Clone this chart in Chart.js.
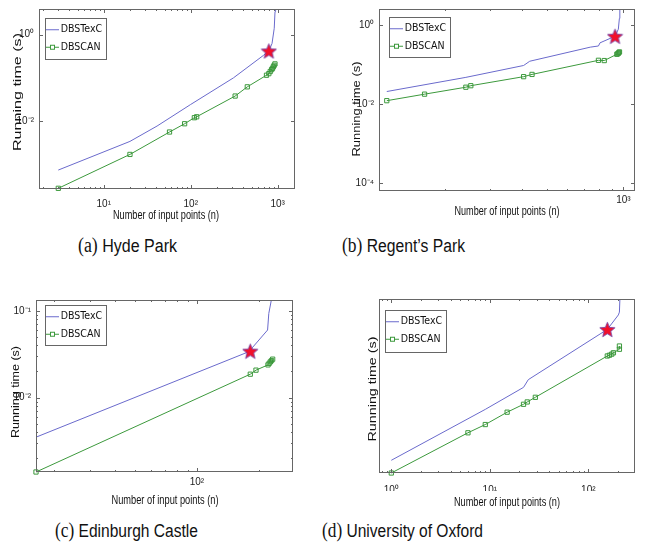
<!DOCTYPE html>
<html>
<head>
<meta charset="utf-8">
<script src="https://cdn.jsdelivr.net/npm/chart.js@4.4.1/dist/chart.umd.min.js"></script>
<style>
  html, body { margin: 0; padding: 0; background: #fff; }
  #page { position: relative; width: 649px; height: 550px; overflow: hidden; }
  #page canvas { position: absolute; }
  .cap { position: absolute; white-space: nowrap; font-family: 'Liberation Sans', Arial, sans-serif;
         font-size: 18px; line-height: 22px; color: #111; transform-origin: 0 50%; }
  .cap .lab { font-family: 'Liberation Serif', 'Times New Roman', serif; font-size: 20px; }
</style>
</head>
<body>
<div id="page">
  <canvas id="hyde" width="330" height="232" style="left:0px;top:0px"></canvas>
  <canvas id="regent" width="319" height="232" style="left:330px;top:0px"></canvas>
  <canvas id="edin" width="330" height="240" style="left:0px;top:270px"></canvas>
  <canvas id="oxford" width="319" height="240" style="left:330px;top:270px"></canvas>

  <div class="cap" style="left:78px;top:234px" data-w="99"><span class="lab">(a)</span> Hyde Park</div>
  <div class="cap" style="left:342px;top:234px" data-w="123"><span class="lab">(b)</span> Regent’s Park</div>
  <div class="cap" style="left:55px;top:519px" data-w="143"><span class="lab">(c)</span> Edinburgh Castle</div>
  <div class="cap" style="left:322px;top:519px" data-w="161"><span class="lab">(d)</span> University of Oxford</div>
</div>
<script>
// (a) Hyde Park
const hydeScanX = [3, 20, 57, 85, 110, 117, 324, 447, 743, 790, 820, 850, 870, 890, 910, 930];
const hydeScanY = [0.00028, 0.0017, 0.0056, 0.0087, 0.012, 0.0126, 0.038, 0.062, 0.115, 0.125, 0.14, 0.155, 0.165, 0.18, 0.195, 0.21];
const hydeTexcX = [3, 20, 41, 99, 310, 684, 790, 860, 912, 931, 945];
const hydeTexcY = [0.00074, 0.0034, 0.0077, 0.024, 0.1, 0.33, 0.42, 0.62, 1.4, 3.4, 8];
const hydeStar = { x: 790, y: 0.42 };
const hydeXTicks = [10, 100, 1000];
const hydeXLabels = ['10¹', '10²', '10³'];
const hydeYTicks = [0.01, 1];
const hydeYLabels = ['10⁻²', '10⁰'];

// (b) Regent's Park
const regentScanX = [118, 166, 241, 252, 406, 438, 798, 841, 942, 950, 955, 960, 965];
const regentScanY = [0.0123, 0.018, 0.027, 0.0295, 0.05, 0.057, 0.13, 0.128, 0.185, 0.19, 0.197, 0.205, 0.212];
const regentTexcX = [118, 241, 406, 429, 741, 798, 809, 927, 955, 964, 968];
const regentTexcY = [0.021, 0.048, 0.096, 0.123, 0.28, 0.3, 0.36, 0.53, 0.8, 1.5, 4];
const regentStar = { x: 927, y: 0.53 };
const regentXTicks = [1000];
const regentXLabels = ['10³'];
const regentYTicks = [0.0001, 0.01, 1];
const regentYLabels = ['10⁻⁴', '10⁻²', '10⁰'];

// (c) Edinburgh Castle
const edinScanX = [16.4, 182, 194, 222, 225, 228, 231, 234];
const edinScanY = [0.00139, 0.0186, 0.0207, 0.0238, 0.0248, 0.0258, 0.0267, 0.0277];
const edinTexcX = [16.4, 182, 187, 221, 224, 234];
const edinTexcY = [0.0035, 0.0343, 0.038, 0.06, 0.093, 0.16];
const edinStar = { x: 182, y: 0.0343 };
const edinXTicks = [100];
const edinXLabels = ['10²'];
const edinYTicks = [0.01, 0.1];
const edinYLabels = ['10⁻²', '10⁻¹'];

// (d) University of Oxford
const oxfScanX = [1, 6, 9, 15, 22, 24, 29, 156, 164, 173, 180, 207, 207];
const oxfScanY = [0.0001, 0.00084, 0.0013, 0.0025, 0.0038, 0.0043, 0.0055, 0.049, 0.051, 0.054, 0.058, 0.07, 0.083];
const oxfTexcX = [1, 9, 22, 24.6, 156, 202, 207, 210];
const oxfTexcY = [0.000196, 0.0029, 0.0093, 0.014, 0.2, 0.43, 0.5, 1.2];
const oxfStar = { x: 156, y: 0.2 };
const oxfXTicks = [1, 10, 100];
const oxfXLabels = ['10⁰', '10¹', '10²'];

const BLUE = '#6a6acc';
const GREEN = '#3c993c';
const AXIS = '#666';
const TEXT = '#111';
const SANS = "'Liberation Sans', Arial, sans-serif";
const NARROW = "'Liberation Sans Narrow', 'Arial Narrow', 'DejaVu Sans Condensed', 'Liberation Sans', Arial, sans-serif";

function zip(xs, ys) {
  return xs.map(function(x, i) { return { x: x, y: ys[i] }; });
}

function minorTicks(min, max) {
  const out = [];
  for (let e = Math.floor(Math.log10(min)); e <= Math.ceil(Math.log10(max)); e++) {
    for (let k = 2; k <= 9; k++) {
      const v = k * Math.pow(10, e);
      if (v >= min && v <= max) out.push(v);
    }
  }
  return out;
}

function sameValue(a, b) {
  return Math.abs(a - b) / b < 1e-6;
}

function labelFor(majors, labels, v) {
  const i = majors.findIndex(function(m) { return sameValue(m, v); });
  return i >= 0 ? labels[i] : '';
}

function legendIcon(color, marker) {
  const c = document.createElement('canvas');
  c.width = 13;
  c.height = 7;
  const g = c.getContext('2d');
  g.strokeStyle = color;
  g.lineWidth = 1;
  g.beginPath();
  g.moveTo(0, 3.5);
  g.lineTo(13, 3.5);
  g.stroke();
  if (marker) {
    g.fillStyle = '#fff';
    g.fillRect(4.5, 1.5, 4, 4);
    g.strokeRect(4.5, 1.5, 4, 4);
  }
  return c;
}

function starIcon(size) {
  const c = document.createElement('canvas');
  c.width = size;
  c.height = size;
  const g = c.getContext('2d');
  const r = size / 2 - 0.5;
  const ri = r * 0.44;
  g.beginPath();
  for (let i = 0; i < 10; i++) {
    const a = -Math.PI / 2 + i * Math.PI / 5;
    const rr = i % 2 ? ri : r;
    g.lineTo(size / 2 + rr * Math.cos(a), size / 2 + 0.8 + rr * Math.sin(a));
  }
  g.closePath();
  g.fillStyle = '#f2102a';
  g.fill();
  g.strokeStyle = '#6a3ca8';
  g.lineWidth = 0.8;
  g.stroke();
  return c;
}

const texcIcon = legendIcon(BLUE, false);
const scanIcon = legendIcon(GREEN, true);
const starImg = starIcon(17);

function stretchText(ctx, text, cx, cy, len, font, vertical) {
  ctx.save();
  ctx.font = font;
  ctx.translate(cx, cy);
  if (vertical) ctx.rotate(-Math.PI / 2);
  const w = ctx.measureText(text).width;
  ctx.scale(len / w, 1);
  ctx.textAlign = 'center';
  ctx.textBaseline = 'middle';
  ctx.fillStyle = TEXT;
  ctx.fillText(text, 0, 0);
  ctx.restore();
}

function drawMarks(ctx, scale, ca, horizontal, majors) {
  scale.ticks.forEach(function(t) {
    const major = majors.some(function(m) { return sameValue(m, t.value); });
    const len = major ? 4 : 2;
    const p = Math.round(scale.getPixelForValue(t.value)) + 0.5;
    ctx.beginPath();
    if (horizontal) {
      ctx.moveTo(p, ca.bottom);
      ctx.lineTo(p, ca.bottom - len);
      ctx.moveTo(p, ca.top);
      ctx.lineTo(p, ca.top + len);
    } else {
      ctx.moveTo(ca.left, p);
      ctx.lineTo(ca.left + len, p);
      ctx.moveTo(ca.right, p);
      ctx.lineTo(ca.right - len, p);
    }
    ctx.stroke();
  });
}

const panelDeco = {
  id: 'panelDeco',
  afterLayout(chart, args, o) {
    const lg = chart.legend;
    lg.left = o.legendBox[0] - 2.5;
    lg.top = o.legendBox[1] - 0.5;
    lg.right = lg.left + 140;
    lg.bottom = lg.top + 70;
  },
  beforeDraw(chart, args, o) {
    const ctx = chart.ctx;
    const b = o.legendBox;
    ctx.save();
    ctx.font = '10.5px ' + NARROW;
    const tw = Math.max(ctx.measureText('DBSTexC').width, ctx.measureText('DBSCAN').width);
    const w = Math.max(b[2], Math.round(tw + 20));
    ctx.fillStyle = '#fff';
    ctx.fillRect(b[0], b[1], w, b[3]);
    ctx.strokeStyle = AXIS;
    ctx.lineWidth = 1;
    ctx.strokeRect(b[0] + 0.5, b[1] + 0.5, w, b[3]);
    ctx.restore();
  },
  afterDraw(chart, args, o) {
    const ctx = chart.ctx;
    const ca = chart.chartArea;
    ctx.save();
    ctx.strokeStyle = AXIS;
    ctx.lineWidth = 1;
    ctx.strokeRect(ca.left + 0.5, ca.top + 0.5, ca.width - 1, ca.height - 1);
    drawMarks(ctx, chart.scales.x, ca, true, o.xMajor);
    if (o.yMarks) drawMarks(ctx, chart.scales.y, ca, false, o.yMajor);
    ctx.restore();
    stretchText(ctx, 'Number of input points (n)', o.xTitle[0], o.xTitle[1], o.xTitle[2], '13px ' + SANS, false);
    stretchText(ctx, 'Running time (s)', o.yTitle[0], o.yTitle[1], o.yTitle[2], '11px ' + SANS, true);
  }
};

function makePanel(p) {
  const xVals = p.xMajor.concat(minorTicks(p.xMin, p.xMax)).sort(function(a, b) { return a - b; });
  const yVals = p.yMinor ? p.yMajor.concat(minorTicks(p.yMin, p.yMax)).sort(function(a, b) { return a - b; }) : p.yMajor.slice();
  const canvas = document.getElementById(p.id);
  const xh = 18;

  return new Chart(canvas, {
    type: 'scatter',
    plugins: [panelDeco],
    data: {
      datasets: [
        {
          label: 'DBSTexC',
          data: zip(p.texcX, p.texcY),
          showLine: true,
          borderColor: BLUE,
          borderWidth: 1,
          pointRadius: 0,
          clip: 0,
        },
        {
          label: 'DBSCAN',
          data: zip(p.scanX, p.scanY),
          showLine: true,
          borderColor: GREEN,
          borderWidth: 1,
          pointStyle: 'rect',
          pointRadius: 3,
          pointBorderWidth: 1,
          pointBorderColor: GREEN,
          pointBackgroundColor: 'rgba(0,0,0,0)',
          clip: 6,
        },
        {
          label: 'star',
          data: [p.star],
          pointStyle: starImg,
          pointRadius: 8,
          order: -1,
          clip: false,
        }
      ]
    },
    options: {
      responsive: false,
      animation: false,
      devicePixelRatio: 1,
      layout: {
        padding: { left: 0, top: p.plot[1], right: canvas.width - p.plot[2], bottom: canvas.height - xh - p.plot[3] }
      },
      scales: {
        x: {
          type: 'logarithmic',
          min: p.xMin,
          max: p.xMax,
          afterBuildTicks: function(s) { s.ticks = xVals.map(function(v) { return { value: v }; }); },
          afterFit: function(s) {
            s.height = xh;
            s.paddingLeft = s.paddingRight = s.paddingTop = s.paddingBottom = 0;
          },
          ticks: {
            autoSkip: false,
            maxRotation: 0,
            padding: p.xPad,
            color: '#222',
            font: { family: SANS, size: 10 },
            callback: function(v) { return labelFor(p.xMajor, p.xLabels, v); }
          },
          grid: { display: false, drawTicks: false },
          border: { display: false }
        },
        y: {
          type: 'logarithmic',
          min: p.yMin,
          max: p.yMax,
          afterBuildTicks: function(s) { s.ticks = yVals.map(function(v) { return { value: v }; }); },
          afterFit: function(s) {
            s.width = p.plot[0];
            s.paddingLeft = s.paddingRight = s.paddingTop = s.paddingBottom = 0;
          },
          ticks: {
            display: p.yLabels.length > 0,
            autoSkip: false,
            padding: 5,
            color: '#222',
            font: { family: SANS, size: 10 },
            callback: function(v) { return labelFor(p.yMajor, p.yLabels, v); }
          },
          grid: { display: false, drawTicks: false },
          border: { display: false }
        }
      },
      plugins: {
        tooltip: { enabled: false },
        legend: {
          position: 'chartArea',
          align: 'start',
          labels: {
            usePointStyle: true,
            pointStyleWidth: 6,
            padding: 7,
            color: TEXT,
            font: { family: NARROW, size: 10.5 },
            filter: function(item) { return item.datasetIndex < 2; },
            generateLabels: function(chart) {
              const items = Chart.defaults.plugins.legend.labels.generateLabels(chart);
              items.forEach(function(it) {
                it.pointStyle = it.datasetIndex === 0 ? texcIcon : scanIcon;
              });
              return items;
            }
          }
        },
        panelDeco: {
          legendBox: p.legendBox,
          xTitle: p.xTitle,
          yTitle: p.yTitle,
          xMajor: p.xMajor,
          yMajor: p.yMajor,
          yMarks: p.yMarks
        }
      }
    }
  });
}

// plot rectangles are in canvas coordinates: [left, top, right, bottom]
makePanel({
  id: 'hyde', plot: [39, 4, 295, 189],
  xMin: 1.8, xMax: 1580, yMin: 0.00027, yMax: 3.9,
  xMajor: hydeXTicks, xLabels: hydeXLabels, yMajor: hydeYTicks, yLabels: hydeYLabels, yMinor: false, yMarks: true,
  scanX: hydeScanX, scanY: hydeScanY, texcX: hydeTexcX, texcY: hydeTexcY, star: hydeStar,
  xPad: 9, legendBox: [45, 18, 55, 41], xTitle: [166, 215, 106], yTitle: [18, 92, 118]
});

makePanel({
  id: 'regent', plot: [49, 5, 305, 191],
  xMin: 110, xMax: 1110, yMin: 0.000063, yMax: 2.6,
  xMajor: regentXTicks, xLabels: regentXLabels, yMajor: regentYTicks, yLabels: regentYLabels, yMinor: false, yMarks: true,
  scanX: regentScanX, scanY: regentScanY, texcX: regentTexcX, texcY: regentTexcY, star: regentStar,
  xPad: 3, legendBox: [59, 17, 57, 40], xTitle: [177, 211, 105], yTitle: [27, 109, 95]
});

makePanel({
  id: 'edin', plot: [36, 30, 293, 202],
  xMin: 16.4, xMax: 294, yMin: 0.00139, yMax: 0.133,
  xMajor: edinXTicks, xLabels: edinXLabels, yMajor: edinYTicks, yLabels: edinYLabels, yMinor: true, yMarks: true,
  scanX: edinScanX, scanY: edinScanY, texcX: edinTexcX, texcY: edinTexcY, star: edinStar,
  xPad: 4, legendBox: [45, 35, 57, 40], xTitle: [165, 230, 107], yTitle: [16, 122, 92]
});

makePanel({
  id: 'oxford', plot: [49, 29, 305, 203],
  xMin: 0.75, xMax: 298, yMin: 0.0001, yMax: 1,
  xMajor: oxfXTicks, xLabels: oxfXLabels, yMajor: [0.0001, 0.001, 0.01, 0.1, 1], yLabels: [], yMinor: false, yMarks: false,
  scanX: oxfScanX, scanY: oxfScanY, texcX: oxfTexcX, texcY: oxfTexcY, star: oxfStar,
  xPad: 11, legendBox: [55, 40, 58, 42], xTitle: [177, 232, 106], yTitle: [43, 119, 105]
});

// squeeze captions to the widths they have in the figure
document.querySelectorAll('.cap').forEach(function(el) {
  const target = parseFloat(el.dataset.w);
  const w = el.getBoundingClientRect().width;
  el.style.transform = 'scaleX(' + (target / w) + ')';
});
</script>
</body>
</html>
